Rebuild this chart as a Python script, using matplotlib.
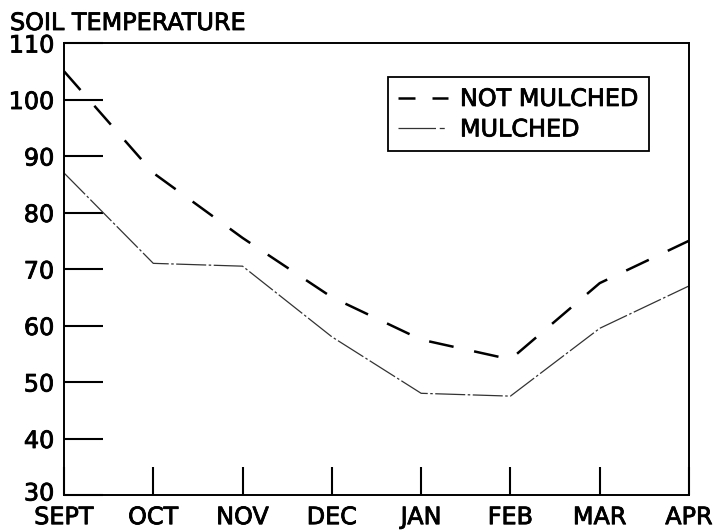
import matplotlib
matplotlib.use("Agg")
import matplotlib.pyplot as plt
import matplotlib.transforms as mtransforms
import matplotlib.patheffects as pe
from matplotlib.lines import Line2D

months = ["SEPT", "OCT", "NOV", "DEC", "JAN", "FEB", "MAR", "APR"]
not_mulched = [105, 87, 75.5, 65, 57.5, 54, 67.5, 75]
mulched = [87, 71, 70.5, 58, 48, 47.5, 59.5, 67]
y_ticks = [30, 40, 50, 60, 70, 80, 90, 100, 110]

plt.rcParams['font.family'] = ['DejaVu Sans']
FS = 17.2
heavy = [pe.withStroke(linewidth=0.6, foreground="black")]

fig = plt.figure(figsize=(7.15, 5.3), dpi=100)
ax = fig.add_axes([64/715, 35/530, 625/715, 452/530])

x = list(range(len(months)))
ax.plot(x, not_mulched, color="black", lw=1.8, dashes=(10, 8.4))
ax.plot(x, mulched, color="#333333", lw=0.9, dashes=(24, 2, 2, 2))

ax.set_xlim(0, len(months) - 1)
ax.set_ylim(30, 110)
ax.set_xticks(x)
ax.set_xticklabels(months, fontsize=FS)
ax.set_yticks(y_ticks)
ax.set_yticklabels([str(v) for v in y_ticks], fontsize=FS)

ax.tick_params(axis='y', direction='in', length=28, width=1.5, pad=7)
ax.tick_params(axis='x', direction='in', length=20, width=1.5, pad=7.3)
for s in ax.spines.values():
    s.set_linewidth(1.4)
    s.set_color("black")

for lbl in ax.get_xticklabels() + ax.get_yticklabels():
    lbl.set_path_effects(heavy)
# nudge the lowest y label up a little so it clears "SEPT"
lowest = ax.get_yticklabels()[0]
lowest.set_transform(lowest.get_transform() +
                     mtransforms.ScaledTranslation(0, 4/100, fig.dpi_scale_trans))

fig.text(10/715, 1 - 30/530, "SOIL TEMPERATURE", fontsize=FS,
         ha="left", va="baseline", path_effects=heavy)

handles = [
    Line2D([], [], color="black", lw=1.8, dashes=(6.8, 6.8)),
    Line2D([], [], color="#333333", lw=0.9, dashes=(30, 3, 4, 3, 2, 3)),
]
leg = ax.legend(handles, ["NOT MULCHED", "MULCHED"],
                loc="upper right", bbox_to_anchor=(0.936, 0.925),
                borderaxespad=0, fancybox=False, framealpha=1,
                edgecolor="black", fontsize=FS, handlelength=2.1,
                handletextpad=0.5, labelspacing=0.27, borderpad=0.42)
leg.get_frame().set_linewidth(1.3)
for t in leg.get_texts():
    t.set_path_effects(heavy)

fig.savefig("out.png", dpi=100, facecolor="white")
